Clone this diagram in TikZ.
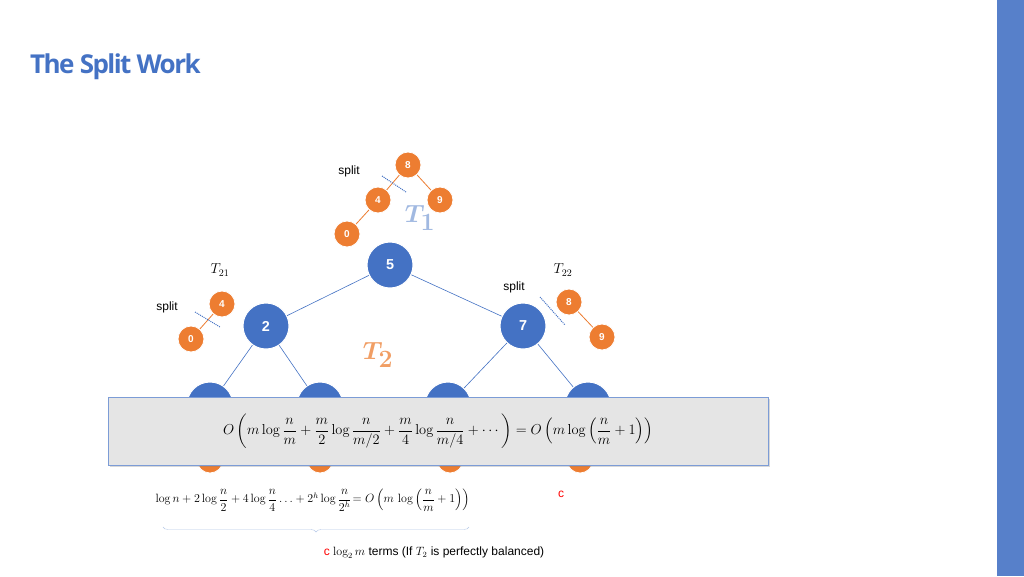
\documentclass[tikz,border=0pt]{standalone}
\usepackage{amsmath,bm}
\usepackage{fontspec}
\setsansfont{Liberation Sans}
\newfontfamily\titlefont{Open Sans}
\usetikzlibrary{decorations.pathreplacing,shadows}
\definecolor{tblue}{HTML}{4472C4}
\definecolor{torange}{HTML}{ED7D31}
\begin{document}
\begin{tikzpicture}[x=1pt,y=-1pt,
 bnode/.style={circle,fill=tblue,draw=white,line width=1pt,minimum size=46pt,inner sep=0pt,text=white,font=\sffamily\bfseries\Large},
 onode/.style={circle,fill=torange,draw=white,line width=0.8pt,minimum size=26pt,inner sep=0pt,text=white,font=\sffamily\bfseries},
 bedge/.style={tblue,line width=0.6pt},
 oedge/.style={torange,line width=0.8pt},
 cut/.style={tblue,densely dotted,line width=1pt},
 lab/.style={font=\sffamily\large}]
\useasboundingbox (0,0) rectangle (1024,576);
\fill[white] (0,0) rectangle (1024,576);
\fill[tblue!90] (997,0) rectangle (1024,576);
\node[anchor=west,text=tblue,font=\titlefont\bfseries\fontsize{26}{30}\selectfont,inner sep=0pt] (title) at (30,67) {\addfontfeature{LetterSpace=-6}The Split Work};
% big labels
\node[text=torange!75,font=\fontsize{80}{80}\selectfont] (T2) at (378,355) {$\bm{T_2}$};
\node[text=tblue!50,font=\fontsize{40}{40}\selectfont] (T1) at (420,218) {$\bm{T_1}$};
% T2 tree
\node[bnode] (n5) at (390,265) {5};
\node[bnode] (n2) at (266,326) {2};
\node[bnode] (n7) at (523,326) {7};
\node[bnode] (n1) at (210,405) {};
\node[bnode] (n3) at (320,405) {};
\node[bnode] (n6) at (448,405) {};
\node[bnode] (n8) at (588,405) {};
\draw[bedge] (n5)--(n2) (n5)--(n7) (n2)--(n1) (n2)--(n3) (n7)--(n6) (n7)--(n8);
\node[onode] (b1) at (210,460) {};
\node[onode] (b2) at (320,460) {};
\node[onode] (b3) at (450,460) {};
\node[onode] (b4) at (580,460) {};
\node[font=\Large] (l1) at (180,458) {$T_{31}$};
\node[font=\Large] (l2) at (290,458) {$T_{32}$};
\node[font=\Large] (l3) at (420,458) {$T_{33}$};
\node[font=\Large] (l4) at (535,458) {$T_{34}$};
% T1
\node[onode] (a8) at (408,165) {8};
\node[onode] (a4) at (378,200) {4};
\node[onode] (a9) at (440,200) {9};
\node[onode] (a0) at (347,234) {0};
\draw[oedge] (a8)--(a4) (a8)--(a9) (a4)--(a0);
\coordinate (c1a) at (382,176); \coordinate (c1b) at (406,192);
\draw[cut] (c1a)--(c1b);
\node[lab] (s1) at (349,171) {split};
% T21
\node[font=\Large] (t21) at (220,270) {$T_{21}$};
\node[onode] (d4) at (222,304) {4};
\node[onode] (d0) at (191,339) {0};
\draw[oedge] (d4)--(d0);
\coordinate (c2a) at (195,312); \coordinate (c2b) at (220,327);
\draw[cut] (c2a)--(c2b);
\node[lab] (s2) at (167,307) {split};
% T22
\node[font=\Large] (t22) at (563,270) {$T_{22}$};
\node[onode] (e8) at (569,302) {8};
\node[onode] (e9) at (602,337) {9};
\draw[oedge] (e8)--(e9);
\coordinate (c3a) at (540,297); \coordinate (c3b) at (565,325);
\draw[cut] (c3a)--(c3b);
\node[lab] (s3) at (514,287) {split};
% formula box
\node[draw=tblue!70,fill=gray!20,line width=0.8pt,minimum width=660pt,minimum height=68pt,drop shadow={opacity=0.3,shadow xshift=2pt,shadow yshift=-2pt},font=\Large] (box) at (438,431)
 {$O\left(m\log\dfrac{n}{m}+\dfrac{m}{2}\log\dfrac{n}{m/2}+\dfrac{m}{4}\log\dfrac{n}{m/4}+\cdots\right)=O\left(m\log\left(\dfrac{n}{m}+1\right)\right)$};
% second line
\node[font=\large,anchor=west] (f2) at (152,500) {$\log n+2\log\dfrac{n}{2}+4\log\dfrac{n}{4}\ldots+2^h\log\dfrac{n}{2^h}\!=O\left(m\,\log\left(\dfrac{n}{m}+1\right)\right)$};
\node[text=red,font=\sffamily\large] (cc) at (561,494) {c};
\coordinate (br1) at (163,527); \coordinate (br2) at (469,527);
\draw[tblue!40,decorate,decoration={brace,mirror,amplitude=5pt}] (br1)--(br2);
\node[font=\sffamily\large] (terms) at (434,553) {\textcolor{red}{c} $\log_2 m$ terms (If $T_2$ is perfectly balanced)};
\end{tikzpicture}
\end{document}
